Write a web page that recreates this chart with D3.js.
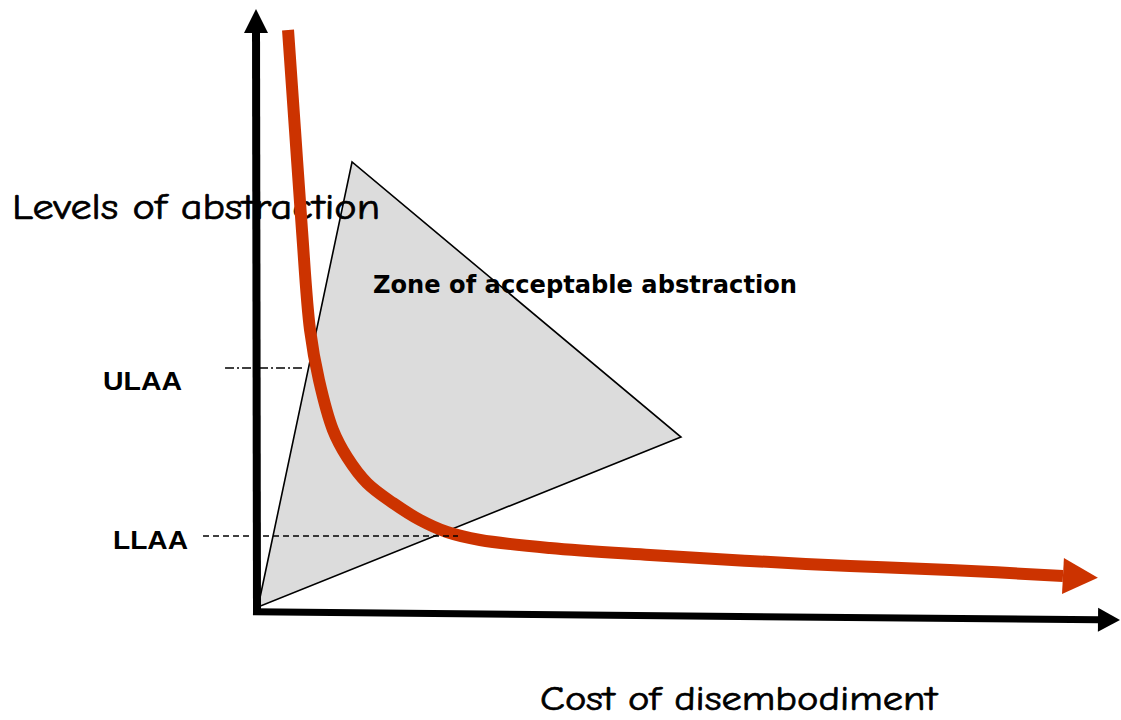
<!DOCTYPE html>
<html>
<head>
<meta charset="utf-8">
<script src="https://cdn.jsdelivr.net/npm/d3@7"></script>
<style>
  html, body { margin: 0; padding: 0; background: #ffffff; }
  svg { display: block; }
</style>
</head>
<body>
<svg id="chart" width="1121" height="720"></svg>
<script>
// ---- Data (abstract units: cost 0-100, abstraction 0-100) ----
const costValues        = [3.65, 4.47, 5.29, 6.24, 7.29, 8.94, 10.59, 12.94, 16.0, 19.18, 22.35, 26.24, 34.47, 46.24, 58.0, 69.76, 81.53, 94.82];
const abstractionValues = [96.67, 80.0, 63.33, 46.67, 38.33, 30.0, 25.5, 21.17, 17.83, 15.0, 13.0, 11.67, 10.33, 9.17, 8.17, 7.33, 6.67, 5.67];

const zoneCost        = [0.12, 11.18, 49.88];
const zoneAbstraction = [0.5, 74.67, 28.83];

const limitLabels = ["ULAA", "LLAA"];
const limitLevels = [40.33, 12.33];
const limitStart  = [-3.76, -6.35];
const limitEnd    = [5.29, 23.65];

const axisOrigin = [0, -0.3];
const xAxisTip   = [101.53, -1.67];
const yAxisTip   = [-0.12, 100.17];

const yAxisTitle = "Levels of abstraction";
const xAxisTitle = "Cost of disembodiment";
const zoneTitle  = "Zone of acceptable abstraction";

// ---- Scales ----
const x = d3.scaleLinear().domain([0, 100]).range([257, 1107]);
const y = d3.scaleLinear().domain([0, 100]).range([610, 10]);

const svg = d3.select("#chart");

// Zone triangle
const zonePts = zoneCost.map((c, i) => [x(c), y(zoneAbstraction[i])]);
svg.append("polygon")
  .attr("points", zonePts.map(p => p.join(",")).join(" "))
  .attr("fill", "#dcdcdc")
  .attr("stroke", "#000")
  .attr("stroke-width", 1.6)
  .attr("stroke-linejoin", "miter");

// Y axis title (behind axis & curve)
svg.append("text")
  .attr("x", 12).attr("y", 219)
  .attr("font-family", "'Comic Sans MS', 'Comic Neue', 'DejaVu Sans', sans-serif")
  .attr("font-size", 36)
  .attr("textLength", 368)
  .attr("lengthAdjust", "spacingAndGlyphs")
  .attr("fill", "#000")
  .attr("stroke", "#000")
  .attr("stroke-width", 0.7)
  .text(yAxisTitle);

// Arrow helper: filled triangle head, returns point where shaft should end
function arrowHead(from, tip, len, half, color) {
  const dx = tip[0] - from[0], dy = tip[1] - from[1];
  const L = Math.hypot(dx, dy);
  const ux = dx / L, uy = dy / L;
  const bx = tip[0] - ux * len, by = tip[1] - uy * len;
  const px = -uy, py = ux;
  svg.append("polygon")
    .attr("points", [[tip[0], tip[1]], [bx + px * half, by + py * half], [bx - px * half, by - py * half]]
      .map(p => p.join(",")).join(" "))
    .attr("fill", color);
  return [bx + ux * 1, by + uy * 1];
}

// Axes
const o = [x(axisOrigin[0]), y(axisOrigin[1])];
const xt = [x(xAxisTip[0]), y(xAxisTip[1])];
const yt = [x(yAxisTip[0]), y(yAxisTip[1])];
const xb = arrowHead(o, xt, 22, 12, "#000");
const yb = arrowHead([x(0), y(0)], yt, 24, 12, "#000");
svg.append("line")
  .attr("x1", o[0] - 4).attr("y1", o[1]).attr("x2", xb[0]).attr("y2", xb[1])
  .attr("stroke", "#000").attr("stroke-width", 7);
svg.append("line")
  .attr("x1", x(0)).attr("y1", y(0) + 3).attr("x2", yb[0]).attr("y2", yb[1])
  .attr("stroke", "#000").attr("stroke-width", 8);

// Red curve
const pts = costValues.map((c, i) => [c, abstractionValues[i]]);
const line = d3.line().x(d => x(d[0])).y(d => y(d[1])).curve(d3.curveCatmullRom.alpha(0.5));
const last = pts[pts.length - 1], prev = pts[pts.length - 2];
const lastPx = [x(last[0]), y(last[1])];
const prevPx = [x(prev[0]), y(prev[1])];
svg.append("path")
  .attr("d", line(pts))
  .attr("fill", "none")
  .attr("stroke", "#cc3300")
  .attr("stroke-width", 12)
  .attr("stroke-linecap", "butt");
{
  const dx = lastPx[0] - prevPx[0], dy = lastPx[1] - prevPx[1];
  const L = Math.hypot(dx, dy);
  const tip = [lastPx[0] + dx / L * 35, lastPx[1] + dy / L * 35];
  arrowHead(lastPx, tip, 35, 18, "#cc3300");
}

// Limit lines and labels
limitLabels.forEach((lab, i) => {
  svg.append("line")
    .attr("x1", x(limitStart[i])).attr("x2", x(limitEnd[i]))
    .attr("y1", y(limitLevels[i])).attr("y2", y(limitLevels[i]))
    .attr("stroke", "#000").attr("stroke-width", 1.3)
    .attr("stroke-dasharray", i === 0 ? "9,3,2,3" : "6,4");
  svg.append("text")
    .attr("x", i === 0 ? 103 : 113)
    .attr("y", y(limitLevels[i]) + (i === 0 ? 22 : 13))
    .attr("font-family", "'Liberation Sans', Arial, sans-serif")
    .attr("font-weight", "bold")
    .attr("font-size", 26)
    .attr("textLength", i === 0 ? 79 : 75)
    .attr("lengthAdjust", "spacingAndGlyphs")
    .attr("fill", "#000")
    .text(lab);
});

// Zone title
svg.append("text")
  .attr("x", 373).attr("y", 293)
  .attr("font-family", "'DejaVu Sans', Verdana, sans-serif")
  .attr("font-weight", "bold")
  .attr("font-size", 24)
  .attr("textLength", 424)
  .attr("lengthAdjust", "spacingAndGlyphs")
  .attr("fill", "#000")
  .text(zoneTitle);

// X axis title
svg.append("text")
  .attr("x", 540).attr("y", 710)
  .attr("font-family", "'Comic Sans MS', 'Comic Neue', 'DejaVu Sans', sans-serif")
  .attr("font-size", 34)
  .attr("textLength", 397)
  .attr("lengthAdjust", "spacingAndGlyphs")
  .attr("fill", "#000")
  .attr("stroke", "#000")
  .attr("stroke-width", 0.7)
  .text(xAxisTitle);
</script>
</body>
</html>
